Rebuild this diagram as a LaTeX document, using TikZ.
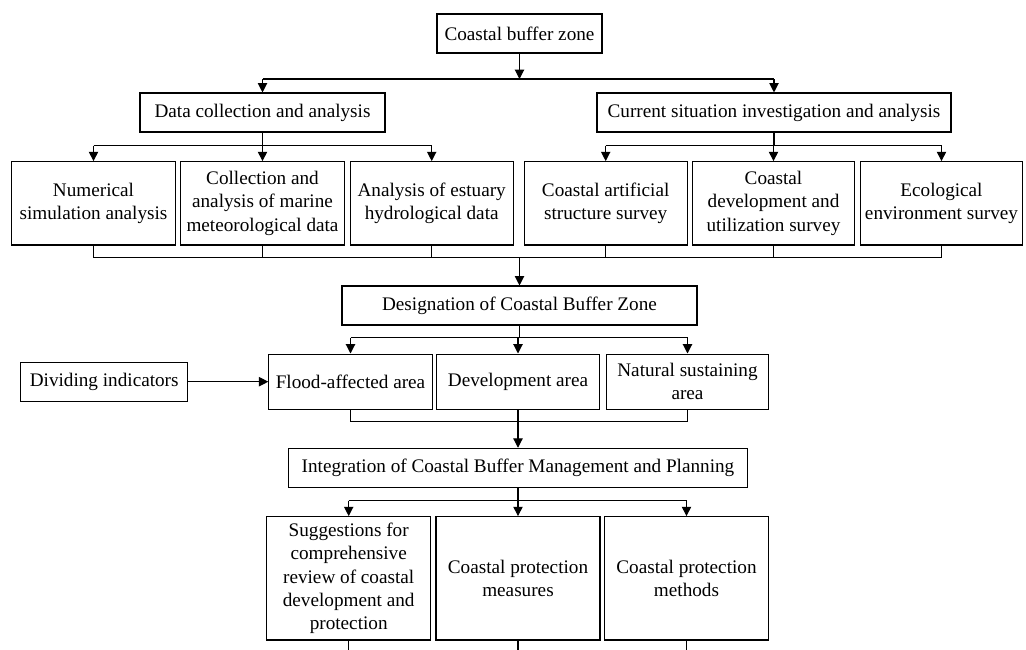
\documentclass[tikz,border=0pt]{standalone}
\usepackage{fontspec}
\setmainfont{Liberation Serif}
\usetikzlibrary{arrows.meta}
\begin{document}
\begin{tikzpicture}[x=0.75pt, y=-0.75pt,
        box/.style={draw, line width=0.8pt, align=center, inner sep=1pt, font=\fontsize{14.4}{17.4}\selectfont},
        link/.style={line width=0.8pt},
        arr/.style={line width=0.8pt, -{Triangle[length=7pt,width=7pt]}}]
    \useasboundingbox (0,0) rectangle (1026,650);

    \node[box, minimum width=123.75pt, minimum height=29.25pt] (top) at (519.5,33.5) {Coastal buffer zone};
    \node[box, minimum width=183.75pt, minimum height=29.25pt] (data) at (262.5,112.5) {Data collection and analysis};
    \node[box, minimum width=265.5pt, minimum height=29.25pt] (cur) at (774,112.5) {Current situation investigation and analysis};

    \node[box, minimum width=122.5pt, minimum height=62.5pt] (num) at (93.5,203.3) {Numerical\\simulation analysis};
    \node[box, minimum width=122.5pt, minimum height=62.5pt] (coll) at (262.5,203.3) {Collection and\\analysis of marine\\meteorological data};
    \node[box, minimum width=122.5pt, minimum height=62.5pt] (est) at (431.7,203.3) {Analysis of estuary\\hydrological data};
    \node[box, minimum width=122pt, minimum height=62.5pt] (art) at (605.7,203.3) {Coastal artificial\\structure survey};
    \node[box, minimum width=122pt, minimum height=62.5pt] (use) at (773.5,203.3) {Coastal\\development and\\utilization survey};
    \node[box, minimum width=121.5pt, minimum height=62.5pt] (eco) at (941.5,203.3) {Ecological\\environment survey};

    \node[box, minimum width=266.25pt, minimum height=29.25pt] (desig) at (519.5,305.5) {Designation of Coastal Buffer Zone};
    \node[box, minimum width=122.5pt, minimum height=41.5pt] (flood) at (350.5,381.7) {Flood-affected area};
    \node[box, minimum width=122.5pt, minimum height=41.5pt] (dev) at (518,381.7) {Development area};
    \node[box, minimum width=122pt, minimum height=41.5pt] (nat) at (687.5,381.7) {Natural sustaining\\area};
    \node[box, minimum width=125.25pt, minimum height=29.5pt] (div) at (104.2,381.7) {Dividing indicators};

    \node[box, minimum width=344.5pt, minimum height=29.25pt] (integ) at (518,467.8) {Integration of Coastal Buffer Management and Planning};
    \node[box, minimum width=123pt, minimum height=92.5pt] (sug) at (348.7,578.3) {Suggestions for\\comprehensive\\review of coastal\\development and\\protection};
    \node[box, minimum width=123pt, minimum height=92.5pt] (meas) at (518,578.3) {Coastal protection\\measures};
    \node[box, minimum width=123pt, minimum height=92.5pt] (meth) at (686.5,578.3) {Coastal protection\\methods};

    \coordinate (j1) at (519.5,79);
    \coordinate (j2) at (0,145.5);
    \coordinate (j3) at (519.5,257.7);
    \coordinate (j4) at (519.5,337.7);
    \coordinate (j5) at (518,421.7);
    \coordinate (j6) at (518,500.7);
    \coordinate (bot) at (0,650);

    \draw[arr] (top) -- (j1);
    \draw[link] (data |- j1) -- (cur |- j1);
    \foreach \n in {data,cur} \draw[arr] (\n |- j1) -- (\n);

    \draw[link] (data) -- (data |- j2);
    \draw[link] (num |- j2) -- (est |- j2);
    \foreach \n in {num,coll,est} \draw[arr] (\n |- j2) -- (\n);
    \draw[link] (cur) -- (cur |- j2);
    \draw[link] (art |- j2) -- (eco |- j2);
    \foreach \n in {art,use,eco} \draw[arr] (\n |- j2) -- (\n);

    \foreach \n in {num,coll,est,art,use,eco} \draw[link] (\n) -- (\n |- j3);
    \draw[link] (num |- j3) -- (eco |- j3);
    \draw[arr] (j3) -- (desig);

    \draw[link] (desig) -- (j4);
    \draw[link] (flood |- j4) -- (nat |- j4);
    \foreach \n in {flood,dev,nat} \draw[arr] (\n |- j4) -- (\n);
    \draw[arr] (div) -- (flood);

    \foreach \n in {flood,nat} \draw[link] (\n) -- (\n |- j5);
    \draw[link] (flood |- j5) -- (nat |- j5);
    \draw[arr] (dev) -- (integ);

    \draw[link] (integ) -- (j6);
    \draw[link] (sug |- j6) -- (meth |- j6);
    \foreach \n in {sug,meas,meth} \draw[arr] (\n |- j6) -- (\n);
    \foreach \n in {sug,meas,meth} \draw[link] (\n) -- (\n |- bot);
\end{tikzpicture}
\end{document}
